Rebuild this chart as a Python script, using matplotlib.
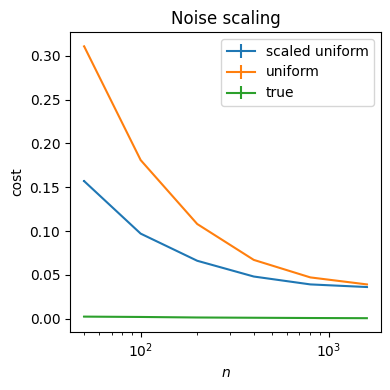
import matplotlib
matplotlib.use("Agg")
import matplotlib.pyplot as plt
import numpy as np

n = [50, 100, 200, 400, 800, 1600]
scaled_uniform = [0.157, 0.097, 0.066, 0.048, 0.039, 0.036]
scaled_uniform_err = [0.001, 0.0008, 0.0006, 0.0006, 0.0006, 0.0006]
uniform = [0.311, 0.181, 0.108, 0.067, 0.047, 0.039]
uniform_err = [0.0008, 0.0006, 0.0005, 0.0004, 0.0004, 0.0004]
true = [0.0022, 0.0018, 0.0012, 0.0009, 0.0006, 0.0004]
true_err = [0.0004, 0.0003, 0.0002, 0.0002, 0.0002, 0.0002]

fig, ax = plt.subplots(figsize=(3.9, 3.9), dpi=100)
ax.errorbar(n, scaled_uniform, yerr=scaled_uniform_err, label="scaled uniform")
ax.errorbar(n, uniform, yerr=uniform_err, label="uniform")
ax.errorbar(n, true, yerr=true_err, label="true")
ax.set_xscale("log")
ax.set_title("Noise scaling")
ax.set_xlabel("$n$")
ax.set_ylabel("cost")
ax.legend(loc="upper right")
fig.subplots_adjust(left=70/390, right=381/390, top=1-32/390, bottom=1-332/390)
fig.savefig("out.png", dpi=100)
